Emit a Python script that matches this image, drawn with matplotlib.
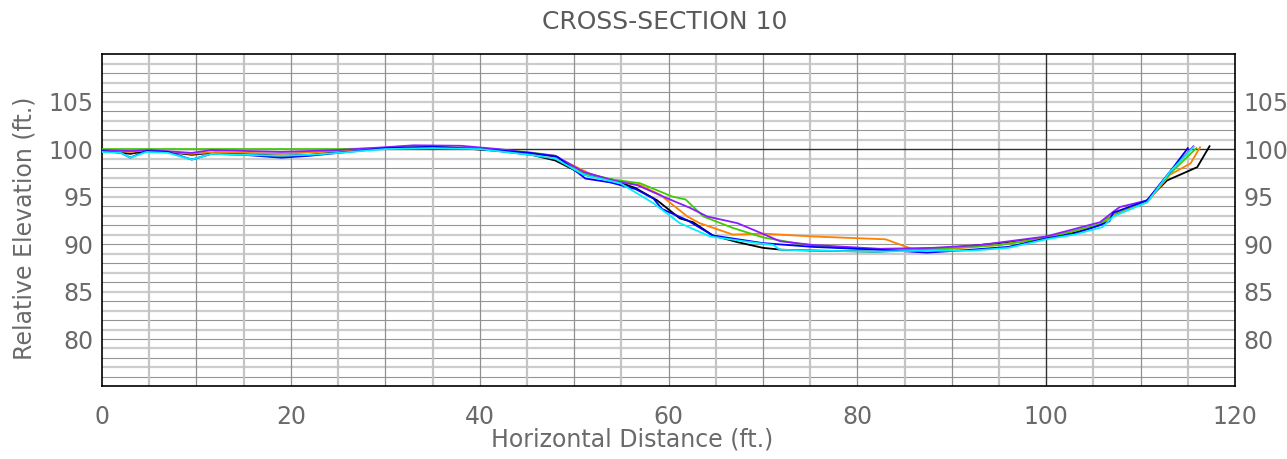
import numpy as np
import matplotlib.pyplot as plt

# %% data
black_x = [0, 1.5, 3, 4.7, 7, 9.5, 11.5, 15, 19, 22, 25, 30, 35, 38, 42, 45.5, 48, 51, 54, 56.5,
           58.8, 61.2, 62.6, 64.7, 67.3, 70, 72, 76, 82, 87, 92, 96, 100, 103, 105.7, 107.1,
           110.7, 112.8, 116, 117.3]
black_y = [99.8, 99.7, 99.5, 99.8, 99.7, 99.4, 99.6, 99.5, 99.3, 99.4, 99.7, 100.1, 100.2, 100.1,
           99.8, 99.4, 98.8, 97.3, 96.8, 95.9, 94.6, 92.7, 92.3, 90.9, 90.2, 89.6, 89.4, 89.3,
           89.2, 89.4, 89.8, 90.2, 90.7, 91.2, 92.0, 93.1, 94.6, 96.7, 98.1, 100.3]

orange_x = [0, 3, 5, 9.5, 12, 19, 25, 30, 35, 40, 45, 48, 51.7, 54.1, 57, 59.1, 62, 63.3, 66.8,
            70, 75.3, 83, 86.3, 90, 95, 100, 105.7, 107.5, 110.7, 113.1, 115.3, 116.3]
orange_y = [99.9, 99.7, 99.9, 99.5, 99.7, 99.5, 99.8, 100.1, 100.2, 100.1, 99.6, 99.2, 97.4, 96.7,
            96.2, 95.2, 92.9, 92.2, 91.0, 91.1, 90.8, 90.5, 89.3, 89.5, 89.9, 90.7, 92.0, 93.3,
            94.4, 97.3, 98.5, 100.2]

green_x = [0, 5, 10, 15, 20, 25, 30, 35, 40, 45, 48, 51, 54.1, 57, 60.4, 61.8, 63.7, 66.8, 70,
           74, 78, 84, 90, 95, 100, 105.7, 107.1, 110.7, 113.1, 115.9]
green_y = [100.0, 100.0, 100.0, 100.0, 100.0, 100.0, 100.1, 100.2, 100.1, 99.7, 99.3, 97.5, 96.8,
           96.4, 95.0, 94.7, 92.9, 91.7, 90.7, 90.0, 89.6, 89.4, 89.6, 89.9, 90.6, 92.1, 93.2,
           94.6, 97.4, 100.1]

purple_x = [0, 3, 5, 9.5, 11.6, 19, 25, 30, 33, 38, 42, 45.3, 48, 51, 54.1, 56.7, 59.9, 62.3,
            64.1, 67.3, 69.7, 71.8, 75.3, 82.4, 88, 93, 100, 105.7, 107.1, 107.8, 110.7, 113.1,
            115.6]
purple_y = [99.9, 99.8, 99.9, 99.6, 99.9, 99.7, 99.9, 100.2, 100.4, 100.35, 100.0, 99.6, 99.3,
            97.6, 96.7, 96.2, 94.8, 93.8, 92.9, 92.2, 91.2, 90.3, 89.9, 89.5, 89.6, 89.9, 90.8,
            92.3, 93.4, 93.9, 94.6, 97.6, 100.3]

blue_x = [0, 2, 3, 4.7, 7, 9.5, 11.6, 15, 19, 22, 25, 30, 35, 40, 45.3, 48.2, 51.2, 53.8, 56.5,
          58.4, 59.3, 62, 64.7, 70, 75.3, 82.4, 87.4, 92, 96, 100, 103, 105.7, 106.7, 107.1,
          110.7, 113.1, 115.0]
blue_y = [99.8, 99.6, 99.1, 99.8, 99.7, 98.9, 99.5, 99.4, 99.1, 99.3, 99.6, 100.1, 100.25, 100.0,
          99.6, 99.2, 96.9, 96.5, 95.8, 94.8, 93.7, 92.5, 90.9, 90.1, 89.7, 89.4, 89.1, 89.4,
          89.7, 90.6, 91.1, 92.0, 92.4, 93.3, 94.6, 97.6, 100.1]

cyan_x = [0, 2, 3, 4.7, 7, 9.5, 11.6, 15, 19, 22, 25, 30, 35, 40, 45.3, 48, 51, 54.9, 58.4, 61.2,
          64.4, 68, 71.1, 71.8, 76, 82, 87, 92, 96, 100, 103, 106, 107.1, 110.7, 113.1, 115.6]
cyan_y = [99.7, 99.6, 99.1, 99.7, 99.6, 98.9, 99.5, 99.4, 99.3, 99.4, 99.6, 100.0, 100.1, 100.0,
          99.4, 99.0, 97.3, 96.4, 94.3, 92.2, 90.8, 90.3, 89.9, 89.4, 89.3, 89.2, 89.3, 89.3,
          89.6, 90.5, 91.0, 91.8, 92.9, 94.4, 97.6, 100.2]

x_ticks = [0, 20, 40, 60, 80, 100, 120]
y_ticks = [80, 85, 90, 95, 100, 105]

series = [
    (black_x, black_y, '#000000'),
    (orange_x, orange_y, '#ff8000'),
    (green_x, green_y, '#40cc00'),
    (purple_x, purple_y, '#8a1cff'),
    (blue_x, blue_y, '#0000ff'),
    (cyan_x, cyan_y, '#00f0ff'),
]

txt = '#6a6a6a'

# %% plot
fig = plt.figure(figsize=(12.87, 4.59), dpi=100)
ax = fig.add_axes([0.0793, 0.158, 0.8803, 0.724])
ax.set_xlim(0, 120)
ax.set_ylim(75, 110)

# grid: every foot horizontally, every 5 ft vertically, alternating shades
for yv in range(76, 110):
    if yv == 100:
        ax.axhline(yv, color='#303030', lw=1.0, zorder=1)
    elif yv % 2:
        ax.axhline(yv, color='#cccccc', lw=1.6, zorder=0)
    else:
        ax.axhline(yv, color='#949494', lw=0.8, zorder=0)
for xv in range(5, 120, 5):
    if xv == 100:
        ax.axvline(xv, color='#303030', lw=1.0, zorder=1)
    elif xv % 10:
        ax.axvline(xv, color='#c4c4c4', lw=1.6, zorder=0)
    else:
        ax.axvline(xv, color='#909090', lw=0.9, zorder=0)

for xs, ys, c in series:
    ax.plot(xs, ys, color=c, lw=1.3, zorder=3)

for s in ax.spines.values():
    s.set_color('#000000')
    s.set_linewidth(1.2)

ax.set_xticks(x_ticks)
ax.set_yticks(y_ticks)
ax.tick_params(length=0, labelsize=17, labelcolor=txt, pad=13)
ax.tick_params(axis='y', labelright=True, pad=6)

fig.text(632 / 1287, 1 - 440 / 459, 'Horizontal Distance (ft.)', ha='center', va='center',
         fontsize=17, color=txt)
fig.text(25 / 1287, 1 - 228 / 459, 'Relative Elevation (ft.)', ha='center', va='center',
         rotation=90, fontsize=17, color=txt)
fig.text(665 / 1287, 1 - 22 / 459, 'CROSS-SECTION 10', ha='center', va='center',
         fontsize=18, color='#5a5a5a')

fig.savefig('out.png', dpi=100)
